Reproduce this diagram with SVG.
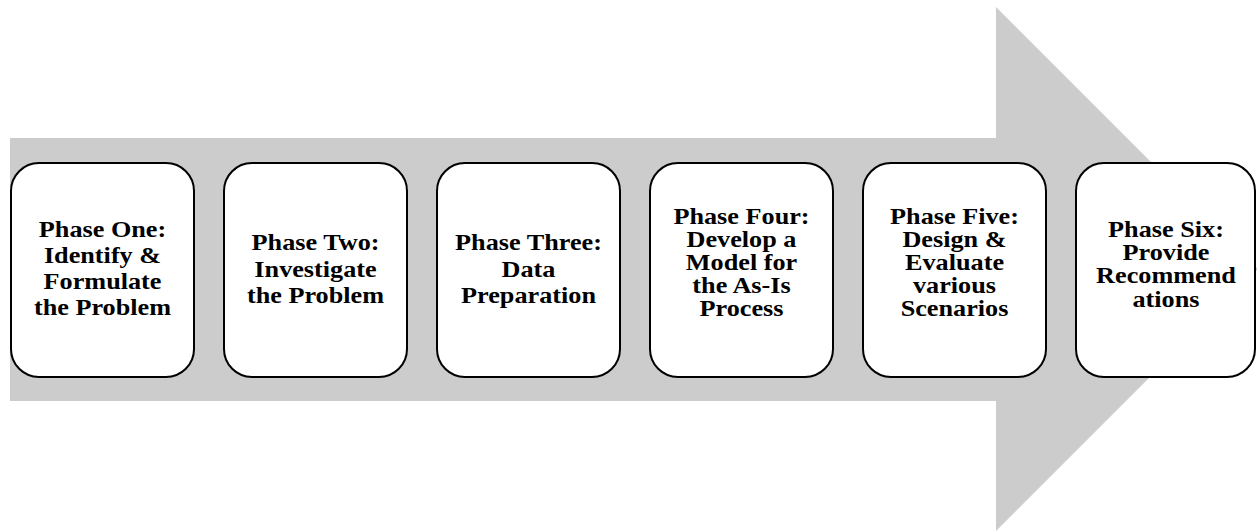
<svg xmlns="http://www.w3.org/2000/svg" width="1257" height="531" viewBox="0 0 1257 531">
  <style>
    .arrow { fill: #cccccc; stroke: none; }
    .box { fill: #ffffff; stroke: #000000; stroke-width: 2; }
    .lbl { font-family: "Liberation Serif", "Times New Roman", serif; font-weight: bold; font-size: 23px; fill: #000000; text-anchor: middle; }
  </style>
  <g id="arrow">
    <polygon class="arrow" points="10,138 996,138 996,7 1258,269 996,531 996,401 10,401"/>
  </g>
  <g id="connectors"></g>
  <g id="phase1">
    <rect class="box" x="11" y="163" width="183" height="214" rx="28" ry="28"/>
    <g transform="translate(102.5,0) scale(1.14,1)">
      <text class="lbl" x="0" y="237">Phase One:</text>
      <text class="lbl" x="0" y="263">Identify &amp;</text>
      <text class="lbl" x="0" y="289">Formulate</text>
      <text class="lbl" x="0" y="315">the Problem</text>
    </g>
  </g>
  <g id="phase2">
    <rect class="box" x="224" y="163" width="183" height="214" rx="28" ry="28"/>
    <g transform="translate(315.5,0) scale(1.14,1)">
      <text class="lbl" x="0" y="250">Phase Two:</text>
      <text class="lbl" x="0" y="277">Investigate</text>
      <text class="lbl" x="0" y="303">the Problem</text>
    </g>
  </g>
  <g id="phase3">
    <rect class="box" x="437" y="163" width="183" height="214" rx="28" ry="28"/>
    <g transform="translate(528.5,0) scale(1.14,1)">
      <text class="lbl" x="0" y="250">Phase Three:</text>
      <text class="lbl" x="0" y="277">Data</text>
      <text class="lbl" x="0" y="303">Preparation</text>
    </g>
  </g>
  <g id="phase4">
    <rect class="box" x="650" y="163" width="183" height="214" rx="28" ry="28"/>
    <g transform="translate(741.5,0) scale(1.14,1)">
      <text class="lbl" x="0" y="224">Phase Four:</text>
      <text class="lbl" x="0" y="247">Develop a</text>
      <text class="lbl" x="0" y="270">Model for</text>
      <text class="lbl" x="0" y="293">the As-Is</text>
      <text class="lbl" x="0" y="316">Process</text>
    </g>
  </g>
  <g id="phase5">
    <rect class="box" x="863" y="163" width="183" height="214" rx="28" ry="28"/>
    <g transform="translate(954.5,0) scale(1.14,1)">
      <text class="lbl" x="0" y="224">Phase Five:</text>
      <text class="lbl" x="0" y="247">Design &amp;</text>
      <text class="lbl" x="0" y="270">Evaluate</text>
      <text class="lbl" x="0" y="293">various</text>
      <text class="lbl" x="0" y="316">Scenarios</text>
    </g>
  </g>
  <g id="phase6">
    <rect class="box" x="1076" y="163" width="179" height="214" rx="28" ry="28"/>
    <g transform="translate(1166,0) scale(1.14,1)">
      <text class="lbl" x="0" y="237">Phase Six:</text>
      <text class="lbl" x="0" y="260">Provide</text>
      <text class="lbl" x="0" y="283">Recommend</text>
      <text class="lbl" x="0" y="307">ations</text>
    </g>
  </g>
</svg>
